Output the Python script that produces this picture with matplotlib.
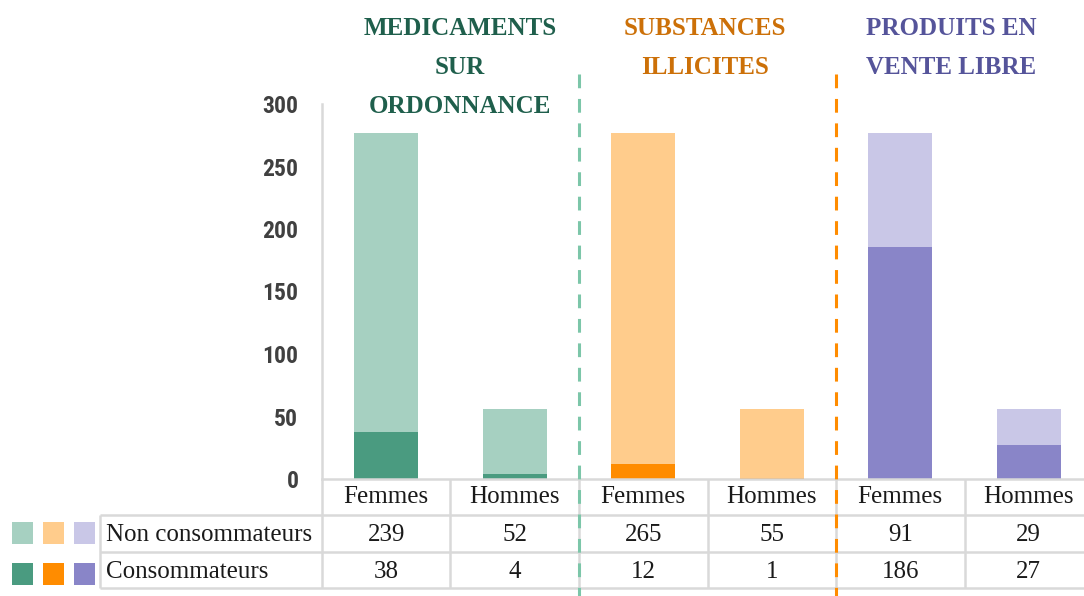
import matplotlib.pyplot as plt
import matplotlib.transforms as mtransforms
from matplotlib import font_manager as fm
from matplotlib.patches import Rectangle

# data
groups = ["MEDICAMENTS\nSUR\nORDONNANCE", "SUBSTANCES\nILLICITES", "PRODUITS EN\nVENTE LIBRE"]
sexes = ["Femmes", "Hommes"]
row_labels = ["Non consommateurs", "Consommateurs"]
non_conso = [239, 52, 265, 55, 91, 29]
conso = [38, 4, 12, 1, 186, 27]
yticks = [0, 50, 100, 150, 200, 250, 300]

# styles
light_colors = ["#A6D0C1", "#FFCC8C", "#C9C7E7"]
dark_colors = ["#4A9B80", "#FF8C00", "#8985C8"]
title_colors = ["#1F5F4C", "#CC7008", "#55549A"]
sep_colors = ["#7CC6A9", "#FF8C00"]
grid_col = "#D9D9D9"
serif = ["Liberation Serif", "DejaVu Serif"]


def pick_font(cands, default):
    names = {f.name for f in fm.fontManager.ttflist}
    for c in cands:
        if c in names:
            return c, True
    return default, False


narrow, found = pick_font(["Liberation Sans Narrow", "Roboto Condensed", "Open Sans Condensed",
                           "DejaVu Sans Condensed", "Noto Sans Condensed"], "Roboto")

W, H = 1084, 596
fig = plt.figure(figsize=(W / 100, H / 100), dpi=100)
# axes spans 6 columns of ~128.5 px starting at x=322 (last column runs past the edge)
ax = fig.add_axes([322 / W, 1 - 479 / H, 771 / W, 375 / H])

x = [i + 0.5 for i in range(len(conso))]
dark = [dark_colors[i // 2] for i in range(len(conso))]
light = [light_colors[i // 2] for i in range(len(conso))]
ax.bar(x, conso, width=0.5, color=dark, zorder=2)
ax.bar(x, non_conso, width=0.5, bottom=conso, color=light, zorder=2)

ax.set_xlim(0, 6)
ax.set_ylim(0, 300)
ax.set_xticks([])
ax.set_yticks(yticks)
ax.tick_params(axis="y", length=0, pad=17)
for lab in ax.get_yticklabels():
    lab.set_fontfamily([narrow, "DejaVu Sans"])
    lab.set_fontsize(17 if found else 15)
    lab.set_fontweight("bold")
    lab.set_color("#404040")
for s in ("top", "right"):
    ax.spines[s].set_visible(False)
for s in ("left", "bottom"):
    ax.spines[s].set_color(grid_col)
    ax.spines[s].set_linewidth(1.8)

trans = mtransforms.blended_transform_factory(ax.transData, ax.transAxes)

# table below the bars
rows_y = [(479 - p) / 375 for p in (479, 515, 552, 588)]
left_x = (100 - 322) / 128.5
line_kw = dict(transform=trans, clip_on=False, color=grid_col, lw=1.8,
               solid_capstyle="butt", zorder=1)
for k in range(0, 7):
    ax.plot([k, k], [rows_y[0], rows_y[-1]], **line_kw)
ax.plot([left_x, left_x], [rows_y[1], rows_y[-1]], **line_kw)
for yy in rows_y[1:]:
    ax.plot([left_x, 6], [yy, yy], **line_kw)

txt_kw = dict(transform=trans, fontsize=18, family=serif, color="#1A1A1A",
              va="center", clip_on=False)
for i in range(len(conso)):
    ax.text(x[i], (rows_y[0] + rows_y[1]) / 2, sexes[i % 2], ha="center", **txt_kw)
    ax.text(x[i], (rows_y[1] + rows_y[2]) / 2 - 0.004, str(non_conso[i]), ha="center", **txt_kw)
    ax.text(x[i], (rows_y[2] + rows_y[3]) / 2 - 0.006, str(conso[i]), ha="center", **txt_kw)
for r, lab in enumerate(row_labels):
    ax.text(left_x + 0.045, (rows_y[r + 1] + rows_y[r + 2]) / 2 - 0.005, lab, ha="left", **txt_kw)

# legend swatches left of the row labels
for r, cols in enumerate([light_colors, dark_colors]):
    top = 522 + r * 41
    for j, c in enumerate(cols):
        fig.add_artist(Rectangle(((12 + j * 31) / W, 1 - (top + 22) / H), 21 / W, 22 / H,
                                 transform=fig.transFigure, color=c, lw=0))

# dashed separators between groups
for k, c in zip([2, 4], sep_colors):
    ax.plot([k, k], [1.08, -0.32], transform=trans, clip_on=False, color=c,
            lw=2.2, dashes=(4.5, 3.5), zorder=3)

# group titles
for gx, g, c in zip([1.074, 2.98, 4.895], groups, title_colors):
    ax.text(gx, 1.232, g, transform=trans, ha="center", va="top", fontsize=18,
            fontweight="bold", family=serif, color=c, linespacing=1.9, clip_on=False)

fig.savefig("out.png", dpi=100)
